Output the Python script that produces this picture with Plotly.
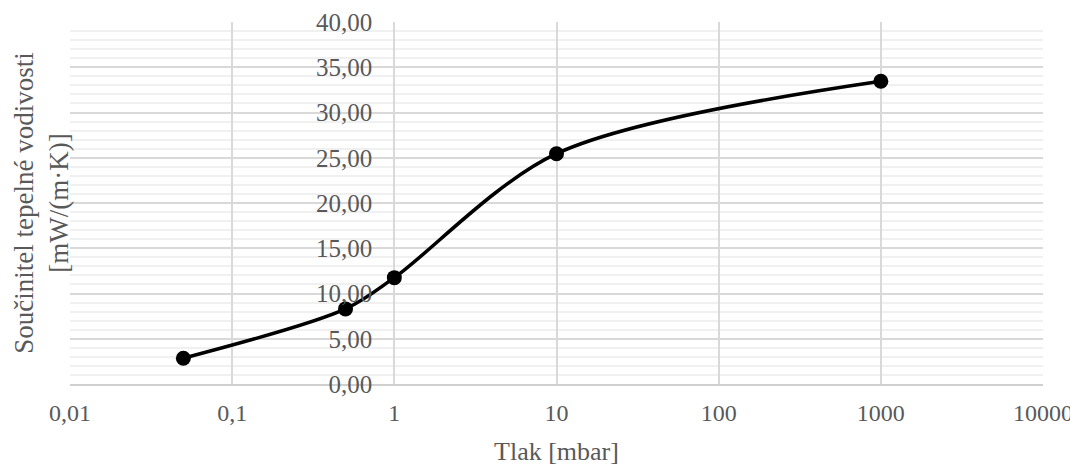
import plotly.graph_objects as go

pressure = [0.05, 0.5, 1, 10, 1000]
conductivity = [2.85, 8.3, 11.75, 25.45, 33.45]

x_tickvals = [0.01, 0.1, 1, 10, 100, 1000, 10000]
x_ticktext = ["0,01", "0,1", "1", "10", "100", "1000", "10000"]
y_tickvals = [0, 5, 10, 15, 20, 25, 30, 35, 40]
y_ticktext = ["0,00", "5,00", "10,00", "15,00", "20,00", "25,00", "30,00", "35,00", "40,00"]

x_title = "Tlak [mbar]"
y_title = "Součinitel tepelné vodivosti<br>[mW/(m·K)]"

FONT = "Liberation Serif"
GRAY = "#595959"

fig = go.Figure()
fig.add_trace(go.Scatter(
    x=pressure, y=conductivity,
    mode="lines+markers",
    line=dict(color="black", width=3.5, shape="spline", smoothing=0.9),
    marker=dict(color="black", size=15),
    showlegend=False,
))

fig.update_layout(
    width=1070, height=458,
    margin=dict(l=62, r=35, t=14, b=82),
    paper_bgcolor="white", plot_bgcolor="white",
    font=dict(family=FONT, color=GRAY, size=25),
    xaxis=dict(
        type="log", range=[-2, 4], automargin=False,
        tickvals=x_tickvals, ticktext=x_ticktext,
        showgrid=True, gridcolor="#d9d9d9", gridwidth=1.5,
        zeroline=False, showline=True, linecolor="#d0d0d0", linewidth=1.5,
        ticks="", tickfont=dict(size=24, color=GRAY),
        ticklabelstandoff=6,
        title=dict(text=x_title, font=dict(size=26, color=GRAY), standoff=22),
    ),
    yaxis=dict(
        range=[0, 40], automargin=False,
        anchor="free", position=1/3,
        tickvals=y_tickvals, ticktext=y_ticktext,
        showgrid=True, gridcolor="#d9d9d9", gridwidth=1.5,
        zeroline=False, showline=False,
        ticks="", tickfont=dict(size=25, color=GRAY),
        ticklabelstandoff=22,
        minor=dict(dtick=1, showgrid=True, gridcolor="#f0f0f0", gridwidth=1.5),
    ),
    annotations=[dict(
        text=y_title, xref="paper", yref="paper",
        x=-0.030, y=0.5, xanchor="center", yanchor="middle",
        textangle=-90, showarrow=False,
        font=dict(size=27, color=GRAY, family=FONT),
    )],
)

fig.write_html("out.html")
